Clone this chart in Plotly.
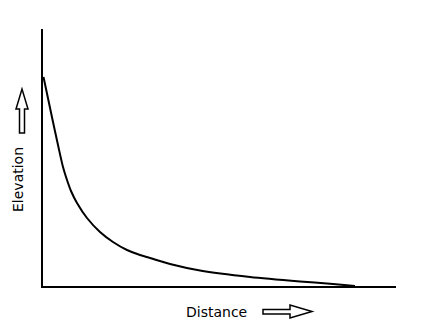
import plotly.graph_objects as go

# Data (distance, elevation)
distance = [0.5, 10, 15, 20, 24, 28, 34, 44, 57, 70, 84, 97, 107, 127, 157, 207, 257, 290, 312]
elevation = [209, 164, 141, 119, 106, 95, 83, 68, 54, 44, 36, 31, 28, 22, 15.5, 9, 4.5, 2, 0]

x_label = "Distance"
y_label = "Elevation"

W, H = 441, 335
ML, MR, MT, MB = 43, 45, 29, 49
PW, PH = W - ML - MR, H - MT - MB


def px(x):
    return (x - ML) / PW


def py(y):
    return (H - MB - y) / PH


fig = go.Figure()
fig.add_trace(go.Scatter(
    x=distance, y=elevation, mode="lines",
    line=dict(color="black", width=2, shape="spline", smoothing=0.8),
    hoverinfo="skip", showlegend=False,
))

# Hollow up arrow (next to Elevation)
up = [(19.5, 133), (24.5, 133), (24.5, 109), (28, 109), (22, 89), (16, 109), (19.5, 109)]
up_path = "M " + " L ".join(f"{px(a)},{py(b)}" for a, b in up) + " Z"
# Hollow right arrow (next to Distance)
rt = [(263, 309.5), (290, 309.5), (290, 305), (312, 311.5), (290, 318), (290, 314), (263, 314)]
rt_path = "M " + " L ".join(f"{px(a)},{py(b)}" for a, b in rt) + " Z"

shapes = [
    dict(type="path", path=up_path, xref="paper", yref="paper",
         line=dict(color="black", width=1.5), fillcolor="white"),
    dict(type="path", path=rt_path, xref="paper", yref="paper",
         line=dict(color="black", width=1.5), fillcolor="white"),
]

font = dict(family="DejaVu Sans", size=14, color="black")
annotations = [
    dict(text=x_label, x=px(216), y=py(312), xref="paper", yref="paper",
         showarrow=False, font=font, xanchor="center", yanchor="middle"),
    dict(text=y_label, x=px(18), y=py(180), xref="paper", yref="paper",
         showarrow=False, font=font, textangle=-90, xanchor="center", yanchor="middle"),
]

fig.update_layout(
    width=W, height=H,
    margin=dict(l=ML, r=MR, t=MT, b=MB, pad=0),
    paper_bgcolor="white", plot_bgcolor="white",
    shapes=shapes, annotations=annotations,
    xaxis=dict(range=[0, 353], showgrid=False, zeroline=False, showticklabels=False,
               ticks="", showline=True, linecolor="black", linewidth=2),
    yaxis=dict(range=[0, 257], showgrid=False, zeroline=False, showticklabels=False,
               ticks="", showline=True, linecolor="black", linewidth=2),
)

fig.write_html("out.html", config={"displayModeBar": False})
